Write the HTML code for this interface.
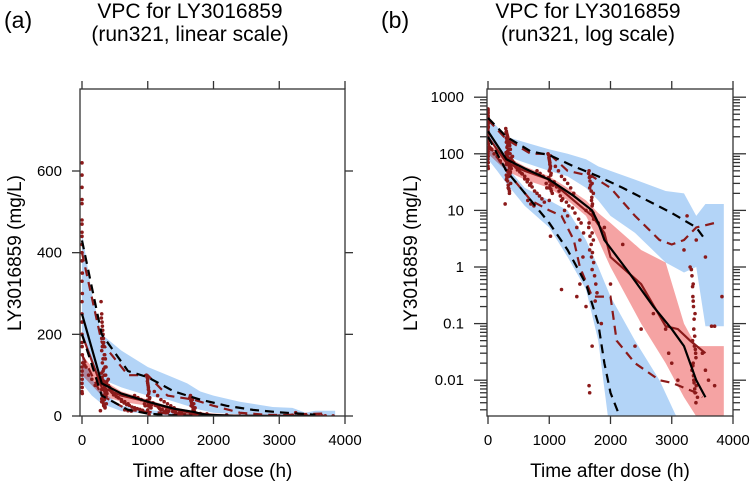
<!DOCTYPE html>
<html><head><meta charset="utf-8">
<style>
html,body{margin:0;padding:0;background:#fff;}
svg{display:block;font-family:"Liberation Sans",Arial,sans-serif;}
</style></head>
<body>
<svg id="chart" width="750" height="482" viewBox="0 0 750 482" xmlns="http://www.w3.org/2000/svg">
<defs>
<clipPath id="clipA"><rect x="80" y="89" width="265" height="327"/></clipPath>
<clipPath id="clipB"><rect x="487" y="89" width="246" height="327"/></clipPath>
</defs>
<text x="4" y="28" font-size="23">(a)</text>
<text x="190" y="18" font-size="21" text-anchor="middle">VPC for LY3016859</text>
<text x="190" y="41" font-size="21" text-anchor="middle">(run321, linear scale)</text>
<text x="381" y="28" font-size="23">(b)</text>
<text x="588" y="18" font-size="21" text-anchor="middle">VPC for LY3016859</text>
<text x="588" y="41" font-size="21" text-anchor="middle">(run321, log scale)</text>
<g id="gA"></g>
<g id="gB"></g>
</svg>
<script>
// shared VPC data
const bandT = [0,150,300,600,1000,1300,1600,1800,2000,2400,2900,3200,3400,3550,3850];
const upHi  = [450,300,200,160,120,100,80,60,50,35,22,20,8,13,13];
const upLo  = [200,130,90,70,50,40,25,15,8,4,1.2,0.8,1,0.09,0.09];
const medT  = [0,300,600,1000,1300,1600,1800,2000,2500,2900,3200,3400,3420,3850];
const medHi = [150,90,60,40,25,15,9,6,2,1.2,0.1,0.04,0.04,0.04];
const medLo = [100,50,35,25,15,8,3,1,0.1,0.02,0.005,0.0023,0.002,0.002];
const loT   = [0,150,300,600,1000,1300,1600,1800,2000,2400,2800,3100];
const loHi  = [150,90,60,25,15,10,3,1,0.3,0.05,0.01,0.002];
const loLo  = [80,50,30,12,5,1.5,0.4,0.05,0.001,0.001,0.001,0.001];

const simUpT = [0,300,700,1000,1400,1800,2200,2600,3000,3400,3550];
const simUpV = [430,200,110,95,60,40,25,15,9,5,3];
const simMedT = [0,300,600,1000,1400,1700,1800,1900,2300,2700,3000,3200,3400,3550];
const simMedV = [250,80,55,35,18,10,6,3,0.8,0.2,0.08,0.04,0.01,0.005];
const simLoT = [0,300,700,1000,1300,1600,1800,1900,2000,2150];
const simLoV = [200,50,15,6,2,0.5,0.1,0.02,0.006,0.0023];

const obsUpT = [0,300,700,1000,1300,1700,2000,2400,2800,3000,3200,3400,3700];
const obsUpV = [400,180,100,100,50,40,25,8,3,2.5,3,5,6];
const obsMedT = [0,300,600,1000,1400,1700,1900,2000,2500,2900,3100,3300,3550];
const obsMedV = [200,70,50,35,15,8,4,1.5,0.5,0.09,0.08,0.05,0.03];
const obsLoT = [0,300,700,1000,1200,1400,1500,1700,1900,2000,2100,2400,2800,3000,3400,3500];
const obsLoV = [150,50,15,10,8,3,1,0.3,0.3,0.3,0.05,0.02,0.01,0.009,0.006,0.005];

const obsT = [0,0,0,0,0,0,5,5,0,0,5,0,0,0,0,10,20,40,60,100,150,200,
290,300,310,320,330,300,340,310,350,320,360,300,330,370,340,300,350,380,320,360,340,300,370,330,350,280,400,420,450,500,550,600,650,700,650,700,750,800,850,900,950,
980,1000,1000,1010,1020,1000,1030,1000,1040,1000,1050,1000,1020,1100,1150,1200,1250,1300,1350,1400,1200,1250,1300,1450,1500,1550,1500,1450,1200,
1650,1680,1700,1660,1720,1690,1700,1680,1710,1650,1700,1720,1660,1690,1700,1800,1900,1700,1650,1660,1750,1600,1850,2000,2200,2400,
2500,2700,2900,2950,3000,3100,3200,3300,3350,3350,3380,3360,3340,3370,3390,3350,3330,3360,3400,3380,3420,3500,3550,3600,3700,3650,3700,3820,3550,3400,3250,
0,0,0,0,0,0,0,0,0,0,2,2,3,3,4,
295,305,315,325,335,345,355,365,295,305,315,325,335,345,355,365,300,310,320,330,340,350,300,310,320,330,340,350,360,370,
380,400,430,460,480,520,560,600,640,680,720,760,800,840,880,920,960,
990,995,1005,1010,1015,1025,990,1005,1015,1025,1035,1060,1080,1120,1160,1180,1220,1280,1320,1380,1420,1480,1520,1560,1600,
1640,1655,1665,1675,1685,1695,1705,1715,1725,1645,1665,1685,1705,1725,1740,1760,1780,
3320,3330,3340,3345,3355,3365,3375,3385,3395,3345,3355,3365,3375,3395];
const obsV = [620,590,530,480,450,400,350,300,250,200,150,120,100,80,60,130,130,125,120,100,90,75,
280,250,220,200,180,160,150,130,120,110,100,90,85,80,70,65,60,55,50,45,40,35,30,25,20,13,90,70,60,55,45,40,35,30,15,13,12,50,45,40,30,
100,90,80,70,60,50,45,35,30,25,20,15,3.5,60,50,40,35,30,25,20,15,10,8,5,3,1.5,0.5,0.3,0.4,
50,40,30,25,20,15,12,10,8,6,4,3,2,1.5,0.9,6,5,0.04,0.008,0.006,0.25,0.2,0.1,0.5,2.5,0.04,
0.08,0.15,0.08,0.03,0.02,0.01,2,1,0.5,0.25,0.15,0.08,0.05,0.04,0.03,0.02,0.015,0.01,0.008,0.006,0.005,0.03,0.015,0.01,0.008,0.09,0.09,0.3,1.5,3,8,
560,520,470,440,420,380,330,280,230,180,170,110,90,70,55,
240,230,210,190,170,150,140,120,105,95,88,78,68,62,56,48,42,38,33,28,24,22,190,170,140,115,100,75,66,58,
85,75,66,58,52,48,44,36,32,28,26,22,20,18,16,14,25,
95,85,75,65,55,42,38,33,28,24,22,28,32,26,22,18,16,14,12,11,9,7,6,4,10,
45,38,33,28,22,17,13,9,7,5,3.5,2.5,1.8,1.2,0.7,0.5,0.35,
0.9,0.7,0.45,0.3,0.2,0.12,0.06,0.035,0.025,0.018,0.012,0.009,0.007,0.004];

const xTicks = [0,1000,2000,3000,4000];
const linYTicks = [0,200,400,600];
const logYTicks = [1000,100,10,1,0.1,0.01];
const logYLabels = ["1000","100","10","1","0.1","0.01"];

const NS = "http://www.w3.org/2000/svg";
function mk(tag, attrs, parent){
  const e = document.createElementNS(NS, tag);
  for (const k in attrs) e.setAttribute(k, attrs[k]);
  parent.appendChild(e);
  return e;
}
const BLUE = "#b3d4f7", RED = "#f5a3a3", DRED = "#8b1a1a";

function drawPanel(g, X, Y, box, clipId, ticksY, labelsY, isLog){
  const data = mk('g', {'clip-path':'url(#'+clipId+')'}, g);
  
  
  function band(T, hi, lo, fill, name, blend){
    let pts = T.map((t,i)=>X(t)+','+Y(hi[i]));
    for (let i=T.length-1;i>=0;i--) pts.push(X(T[i])+','+Y(lo[i]));
    const p = mk('polygon', {points:pts.join(' '), fill:fill}, data);
    if (blend) p.setAttribute('style','mix-blend-mode:multiply');
    
    
  }
  band(bandT, upHi, upLo, BLUE, 'upper-pi-band', false);
  band(loT, loHi, loLo, BLUE, 'lower-pi-band', false);
  band(medT, medHi, medLo, RED, 'median-pi-band', true);
  for (let i=0;i<obsT.length;i++){
    const c = mk('circle', {cx:X(obsT[i]), cy:Y(obsV[i]), r:1.8, fill:DRED}, data);
    
    
  }
  function line(T, V, col, dash, name){
    const p = mk('polyline', {points:T.map((t,i)=>X(t)+','+Y(V[i])).join(' '), fill:'none', stroke:col, 'stroke-width':2.2, 'stroke-dasharray':dash}, data);
    
    
  }
  line(obsUpT, obsUpV, DRED, '9,6', 'observed-95th-line');
  line(obsLoT, obsLoV, DRED, '9,6', 'observed-5th-line');
  line(obsMedT, obsMedV, DRED, 'none', 'observed-median-line');
  line(simUpT, simUpV, '#000', '9,6', 'simulated-95th-line');
  line(simLoT, simLoV, '#000', '9,6', 'simulated-5th-line');
  line(simMedT, simMedV, '#000', 'none', 'simulated-median-line');

  const fr = mk('rect', {x:box.x0, y:box.y0, width:box.x1-box.x0, height:box.y1-box.y0, fill:'none', stroke:'#333', 'stroke-width':1.3}, g);
  
  
  const ax = mk('g', {stroke:'#333','stroke-width':1.3}, g);
  
  
  xTicks.forEach(t=>{
    mk('line',{x1:X(t),x2:X(t),y1:box.y1,y2:box.y1+8},ax);
    mk('line',{x1:X(t),x2:X(t),y1:box.y0,y2:box.y0-8},ax);
    const tx = mk('text',{x:X(t),y:box.y1+29,'font-size':15,'text-anchor':'middle',stroke:'none',fill:'#000'},g);
    tx.textContent = t;
    
    
  });
  const mlen = isLog ? 13 : 8;
  ticksY.forEach((v,i)=>{
    mk('line',{x1:box.x0-mlen,x2:box.x0,y1:Y(v),y2:Y(v)},ax);
    mk('line',{x1:box.x1,x2:box.x1+mlen,y1:Y(v),y2:Y(v)},ax);
    const tx = mk('text',{x:box.x0-(isLog?23:18),y:Y(v)+5,'font-size':15,'text-anchor':'end',fill:'#000'},g);
    tx.textContent = labelsY[i];
    
    
  });
  if (isLog){
    for (let d=-3; d<=3; d++){
      for (let m=2;m<=9;m++){
        const v = m*Math.pow(10,d);
        const y = Y(v);
        if (y<box.y0-1 || y>box.y1) continue;
        mk('line',{x1:box.x0-7,x2:box.x0,y1:y,y2:y},ax);
        mk('line',{x1:box.x1,x2:box.x1+7,y1:y,y2:y},ax);
      }
    }
  }
  const xl = mk('text',{x:(box.x0+box.x1)/2,y:477,'font-size':19,'text-anchor':'middle'},g);
  xl.textContent = 'Time after dose (h)';
  
  
  const yx = isLog ? 417 : 21;
  const yl = mk('text',{x:yx,y:253,'font-size':19,'text-anchor':'middle',transform:'rotate(-90 '+yx+' 253)'},g);
  yl.textContent = 'LY3016859 (mg/L)';
  
  
}

// Panel A: linear
const boxA = {x0:80,x1:345,y0:89,y1:416};
const XA = t => 82 + t*(345-82)/4000;
const YA = v => 416 - v*(416-171)/600;
drawPanel(document.getElementById('gA'), XA, YA, boxA, 'clipA', linYTicks, linYTicks.map(String), false);

// Panel B: log
const boxB = {x0:487,x1:733,y0:89,y1:416};
const XB = t => 488 + t*(733-488)/4000;
const YB = v => 267 - Math.log10(v)*56.6;
drawPanel(document.getElementById('gB'), XB, YB, boxB, 'clipB', logYTicks, logYLabels, true);
</script>
</body></html>
